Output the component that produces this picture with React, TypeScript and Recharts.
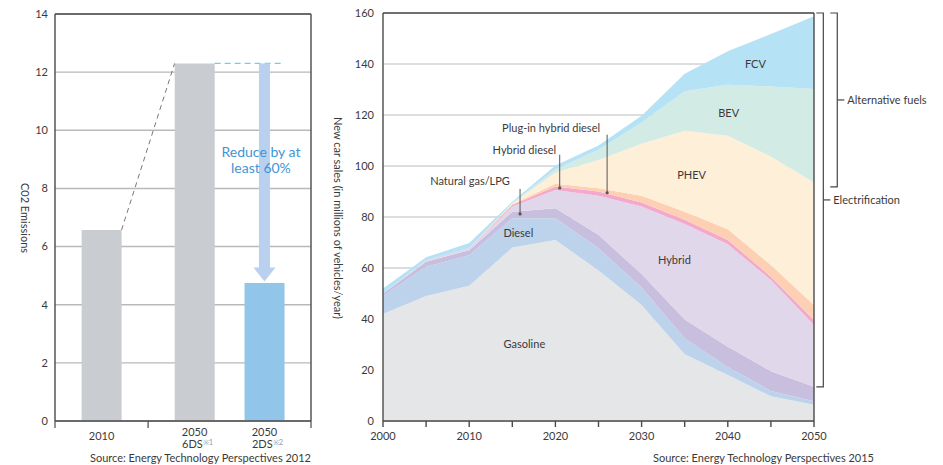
import React from 'react';
import {
  BarChart, Bar, Cell, XAxis, YAxis, CartesianGrid, ReferenceLine, ReferenceDot,
  AreaChart, Area,
} from 'recharts';

const FONT = 'Lato, "Open Sans", sans-serif';
const TEXT = '#3a3a3a';
const AXIS = '#4a4a4a';

// ---------- Left chart: CO2 emissions ----------
const co2Positions = [2, 6, 9];
const co2Years = ['2010', '2050', '2050'];
const co2Scenarios = ['', '6DS', '2DS'];
const co2Notes = ['', '※1', '※2'];
const co2Values = [6.57, 12.3, 4.75];
const co2Colors = ['#c9ccd0', '#c9ccd0', '#92c5ea'];
const co2Ticks = [0, 2, 4, 6, 8, 10, 12, 14];
const co2Separators = [0, 4, 11];

const co2Data = co2Positions.map((x, i) => ({
  x, value: co2Values[i], year: co2Years[i], scenario: co2Scenarios[i], note: co2Notes[i],
}));

// ---------- Right chart: new car sales ----------
const years = [2000, 2005, 2010, 2015, 2020, 2025, 2030, 2035, 2040, 2045, 2050];
const gasoline = [42, 49, 53, 68, 71, 59, 45.5, 26.2, 18, 9.7, 6.4];
const diesel = [7, 11.5, 12, 11.5, 8.5, 8.7, 6.9, 6.2, 3.2, 2.1, 1.3];
const naturalGas = [1, 2, 2, 2.6, 3.9, 5.3, 5.2, 7.4, 7.9, 7.7, 5.7];
const hybrid = [0, 0.5, 0.8, 2, 7.2, 15.3, 26.5, 37.5, 40.2, 35.8, 24.2];
const hybridDiesel = [0, 0, 0, 0.6, 1.4, 1.7, 1.6, 1.6, 1.7, 1.3, 2];
const plugInHybridDiesel = [0, 0, 0, 0.3, 1, 1.3, 2.6, 3.2, 4.2, 4.6, 5.9];
const phev = [0, 0, 0, 0.3, 4.5, 11.1, 20.4, 31.7, 36.7, 42.5, 48];
const bev = [0, 0, 0, 0.2, 1.2, 4, 8.4, 15.5, 20, 27.5, 36.7];
const fcv = [2, 1.2, 2, 0.5, 1.5, 1.6, 2.6, 6.9, 13.1, 20.6, 28.5];
const salesTicks = [0, 20, 40, 60, 80, 100, 120, 140, 160];
const yearTicks = [2000, 2005, 2010, 2015, 2020, 2025, 2030, 2035, 2040, 2045, 2050];

const salesData = years.map((year, i) => ({
  year,
  gasoline: gasoline[i],
  diesel: diesel[i],
  naturalGas: naturalGas[i],
  hybrid: hybrid[i],
  hybridDiesel: hybridDiesel[i],
  plugInHybridDiesel: plugInHybridDiesel[i],
  phev: phev[i],
  bev: bev[i],
  fcv: fcv[i],
}));

const layers = [
  { key: 'gasoline', color: '#e5e6e8' },
  { key: 'diesel', color: '#bdd3ec' },
  { key: 'naturalGas', color: '#c8bfdf' },
  { key: 'hybrid', color: '#e1d7ea' },
  { key: 'hybridDiesel', color: '#f4a9cc' },
  { key: 'plugInHybridDiesel', color: '#fdd0b4' },
  { key: 'phev', color: '#feefd9' },
  { key: 'bev', color: '#d3ebe5' },
  { key: 'fcv', color: '#b6e2f5' },
];

const areaLabels = [
  { text: 'FCV', x: 2043.2, y: 140.2 },
  { text: 'BEV', x: 2040.1, y: 120.9 },
  { text: 'PHEV', x: 2035.8, y: 96.5 },
  { text: 'Hybrid', x: 2033.8, y: 63.5 },
  { text: 'Gasoline', x: 2016.4, y: 30.5 },
  { text: 'Diesel', x: 2015.7, y: 74.1 },
  { text: 'Natural gas/LPG', x: 2010.1, y: 94.2 },
  { text: 'Hybrid diesel', x: 2016.4, y: 106.4 },
  { text: 'Plug-in hybrid diesel', x: 2019.5, y: 115.1 },
];

const pointers = [
  { x: 2015.9, from: 91, to: 81.2 },
  { x: 2020.5, from: 104.4, to: 91.4 },
  { x: 2026.0, from: 112.3, to: 89.5 },
];

const brackets = [
  { text: 'Electrification', x: 2051.08, top: 160, bottom: 13.4 },
  { text: 'Alternative fuels', x: 2052.7, top: 160, bottom: 91.8 },
];

const BAR_HALF = 0.86; // half bar width in axis units

const LeftTick = (props: any) => {
  const { x, y, payload } = props;
  const v = payload.value;
  if (co2Separators.includes(v)) {
    return <line x1={x} y1={y} x2={x} y2={y + 7} stroke={AXIS} strokeWidth={1.2} />;
  }
  const d = co2Data.find((e) => e.x === v);
  if (!d) return null;
  if (!d.scenario) {
    return (
      <text x={x} y={y + 19} textAnchor="middle" fontFamily={FONT} fontSize={11} fill={TEXT}>{d.year}</text>
    );
  }
  return (
    <g>
      <text x={x} y={y + 15} textAnchor="middle" fontFamily={FONT} fontSize={11} fill={TEXT}>{d.year}</text>
      <text x={x + 3} y={y + 27} textAnchor="middle" fontFamily={FONT} fontSize={11} fill={TEXT}>
        {d.scenario}
        <tspan fontSize={7.5} fill="#9a9a9a" dy={-3}>{d.note}</tspan>
      </text>
    </g>
  );
};

const ArrowShape = (p: any) => {
  const { x1, y1, x2, y2 } = p;
  const head = 14;
  const shaft = 5.5;
  const wing = 11;
  const path = `M${x1 - shaft},${y1} L${x1 + shaft},${y1} L${x1 + shaft},${y2 - head} L${x1 + wing},${y2 - head} L${x2},${y2} L${x1 - wing},${y2 - head} L${x1 - shaft},${y2 - head} Z`;
  return <path d={path} fill="#b9d0ee" />;
};

const ReduceText = (p: any) => {
  const { cx, cy } = p;
  return (
    <text x={cx} y={cy} textAnchor="middle" fontFamily={FONT} fontSize={14} fill="#3f95d6">
      <tspan x={cx} dy={-2}>Reduce by at</tspan>
      <tspan x={cx} dy={16}>least 60%</tspan>
    </text>
  );
};

const PointerShape = (p: any) => {
  const { x1, y1, x2, y2 } = p;
  return (
    <g>
      <line x1={x1} y1={y1} x2={x2} y2={y2} stroke="#555" strokeWidth={1} />
      <circle cx={x2} cy={y2} r={1.6} fill="#555" />
    </g>
  );
};

const makeLabel = (text: string) => (p: any) => (
  <text x={p.cx} y={p.cy} textAnchor="middle" dominantBaseline="central" fontFamily={FONT} fontSize={11} fill={TEXT}>
    {text}
  </text>
);

const makeBracket = (text: string) => (p: any) => {
  const { x1, y1, y2 } = p;
  const mid = (y1 + y2) / 2;
  return (
    <g>
      <path d={`M${x1 - 7},${y1} H${x1} V${y2} H${x1 - 7}`} fill="none" stroke="#444" strokeWidth={1.2} />
      <line x1={x1} y1={mid} x2={x1 + 7} y2={mid} stroke="#444" strokeWidth={1.2} />
      <text x={x1 + 10} y={mid} dominantBaseline="central" fontFamily={FONT} fontSize={11} fill={TEXT}>{text}</text>
    </g>
  );
};

export default function App() {
  return (
    <div style={{ position: 'absolute', left: 0, top: 0, width: 943, height: 465, background: '#fff' }}>
      <div style={{ position: 'absolute', left: 0, top: 0 }}>
        <BarChart width={330} height={465} data={co2Data} margin={{ top: 14, right: 19, bottom: 0, left: 0 }}>
          <CartesianGrid vertical={false} stroke="#b9b9b9" strokeWidth={1.4} />
          <XAxis
            type="number"
            dataKey="x"
            domain={[0, 11]}
            ticks={[0, 2, 4, 6, 9, 11]}
            interval={0}
            height={44}
            tickLine={false}
            tickSize={0}
            tickMargin={0}
            stroke={AXIS}
            strokeWidth={1.4}
            tick={<LeftTick />}
          />
          <YAxis
            domain={[0, 14]}
            ticks={co2Ticks}
            width={55}
            tickLine={false}
            tickSize={0}
            tickMargin={7}
            stroke={AXIS}
            strokeWidth={1.4}
            tick={{ fontFamily: FONT, fontSize: 11, fill: TEXT }}
          />
          <ReferenceLine y={14} stroke={AXIS} strokeWidth={1.4} />
          <ReferenceLine x={11} stroke={AXIS} strokeWidth={1.4} />
          <Bar dataKey="value" barSize={40} isAnimationActive={false}>
            {co2Data.map((d, i) => (
              <Cell key={d.x} fill={co2Colors[i]} />
            ))}
          </Bar>
          <ReferenceLine
            segment={[{ x: co2Positions[0] + BAR_HALF, y: co2Values[0] }, { x: co2Positions[1] - BAR_HALF, y: co2Values[1] }]}
            stroke="#777"
            strokeWidth={1}
            strokeDasharray="5 4"
          />
          <ReferenceLine
            segment={[{ x: co2Positions[1] + BAR_HALF, y: co2Values[1] }, { x: co2Positions[2] + BAR_HALF, y: co2Values[1] }]}
            stroke="#6fcdf2"
            strokeWidth={1.3}
            strokeDasharray="6 4"
          />
          <ReferenceLine
            segment={[{ x: co2Positions[2], y: co2Values[1] }, { x: co2Positions[2], y: co2Values[2] + 0.05 }]}
            shape={ArrowShape}
          />
          <ReferenceDot x={8.85} y={9.0} r={0} shape={ReduceText} />
        </BarChart>
      </div>

      <div style={{ position: 'absolute', left: 330, top: 0 }}>
        <AreaChart width={613} height={465} data={salesData} margin={{ top: 13, right: 129, bottom: 0, left: 0 }}>
          <CartesianGrid vertical={false} stroke="#d2d2d2" strokeWidth={1.4} />
          <XAxis
            type="number"
            dataKey="year"
            domain={[2000, 2050]}
            ticks={yearTicks}
            interval={0}
            height={44}
            tickSize={6}
            tickMargin={5}
            stroke={AXIS}
            strokeWidth={1.4}
            tickFormatter={(v: number) => (v % 10 === 0 ? String(v) : '')}
            tick={{ fontFamily: FONT, fontSize: 11, fill: TEXT }}
          />
          <YAxis
            domain={[0, 160]}
            ticks={salesTicks}
            width={53}
            tickLine={false}
            tickSize={0}
            tickMargin={9}
            stroke={AXIS}
            strokeWidth={1.4}
            tick={{ fontFamily: FONT, fontSize: 11, fill: TEXT }}
          />
          {layers.map((l) => (
            <Area
              key={l.key}
              type="linear"
              dataKey={l.key}
              stackId="sales"
              stroke="none"
              fill={l.color}
              fillOpacity={1}
              isAnimationActive={false}
            />
          ))}
          <ReferenceLine y={160} stroke={AXIS} strokeWidth={1.4} />
          <ReferenceLine x={2050} stroke={AXIS} strokeWidth={1.4} />
          {areaLabels.map((l) => (
            <ReferenceDot key={l.text} x={l.x} y={l.y} r={0} shape={makeLabel(l.text)} />
          ))}
          {pointers.map((p, i) => (
            <ReferenceLine key={i} segment={[{ x: p.x, y: p.from }, { x: p.x, y: p.to }]} shape={PointerShape} />
          ))}
          {brackets.map((b) => (
            <ReferenceLine
              key={b.text}
              segment={[{ x: b.x, y: b.top }, { x: b.x, y: b.bottom }]}
              ifOverflow="visible"
              shape={makeBracket(b.text)}
            />
          ))}
        </AreaChart>
      </div>

      <svg width={943} height={465} style={{ position: 'absolute', left: 0, top: 0, pointerEvents: 'none' }}>
        <text x={25} y={218} transform="rotate(90 25 218)" textAnchor="middle" dominantBaseline="central" fontFamily={FONT} fontSize={11} fill={TEXT}>C02 Emissions</text>
        <text x={338} y={218} transform="rotate(90 338 218)" textAnchor="middle" dominantBaseline="central" fontFamily={FONT} fontSize={11} fill={TEXT}>New car sales (in millions of vehicles/year)</text>
        <text x={311} y={462} textAnchor="end" fontFamily={FONT} fontSize={11} fill={TEXT}>Source: Energy Technology Perspectives 2012</text>
        <text x={874} y={462} textAnchor="end" fontFamily={FONT} fontSize={11} fill={TEXT}>Source: Energy Technology Perspectives 2015</text>
      </svg>
    </div>
  );
}
